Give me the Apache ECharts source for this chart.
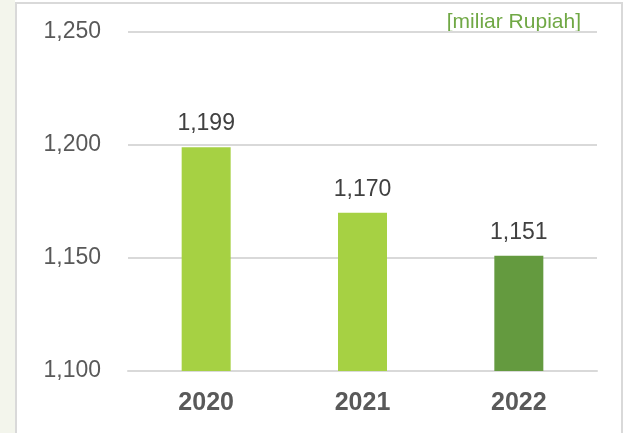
<!DOCTYPE html>
<html>
<head>
<meta charset="utf-8">
<script src="https://cdn.jsdelivr.net/npm/echarts@6/dist/echarts.min.js"></script>
<style>
  html, body { margin: 0; padding: 0; background: #ffffff; }
  #chart { width: 627px; height: 433px; }
</style>
</head>
<body>
<div id="chart"></div>
<script>
// data
var years = ['2020', '2021', '2022'];
var values = [1199, 1170, 1151];
var barColors = ['#a6d143', '#a6d143', '#649a3f'];
var unitLabel = '[miliar Rupiah]';

var chart = echarts.init(document.getElementById('chart'), null, { renderer: 'canvas' });

var option = {
  animation: false,
  backgroundColor: '#ffffff',
  graphic: [
    // faint tinted strip on the left
    { type: 'rect', left: 0, top: 0, shape: { width: 15, height: 433 }, style: { fill: '#f3f5ec' }, z: -10 },
    // panel border
    { type: 'rect', shape: { x: 16, y: 3, width: 606, height: 440 }, style: { fill: 'none', stroke: '#d9d9d9', lineWidth: 2 }, z: -5 },
    { type: 'text', right: 46, top: 12, style: { text: unitLabel, fill: '#70a845', font: '21px "Liberation Sans", Arial, sans-serif' } }
  ],
  grid: { left: 128, right: 30, top: 32, bottom: 62 },
  xAxis: {
    type: 'category',
    data: years,
    axisTick: { show: false },
    axisLine: { lineStyle: { color: '#d9d9d9', width: 2 } },
    axisLabel: {
      color: '#595959', fontSize: 25, fontWeight: 'bold', margin: 20,
      fontFamily: '"Liberation Sans", Arial, sans-serif'
    }
  },
  yAxis: {
    type: 'value',
    min: 1100, max: 1250, interval: 50,
    axisLine: { show: false },
    axisTick: { show: false },
    splitLine: { lineStyle: { color: '#d9d9d9', width: 2 } },
    axisLabel: {
      color: '#595959', fontSize: 23, margin: 27,
      fontFamily: '"Liberation Sans", Arial, sans-serif',
      formatter: function (v) { return v.toLocaleString('en-US'); }
    }
  },
  series: [{
    type: 'bar',
    barWidth: 49,
    data: values.map(function (v, i) { return { value: v, itemStyle: { color: barColors[i] } }; }),
    label: {
      show: true, position: 'top', distance: 12,
      color: '#404040', fontSize: 23,
      fontFamily: '"Liberation Sans", Arial, sans-serif',
      formatter: function (p) { return p.value.toLocaleString('en-US'); }
    }
  }]
};

chart.setOption(option);
</script>
</body>
</html>
